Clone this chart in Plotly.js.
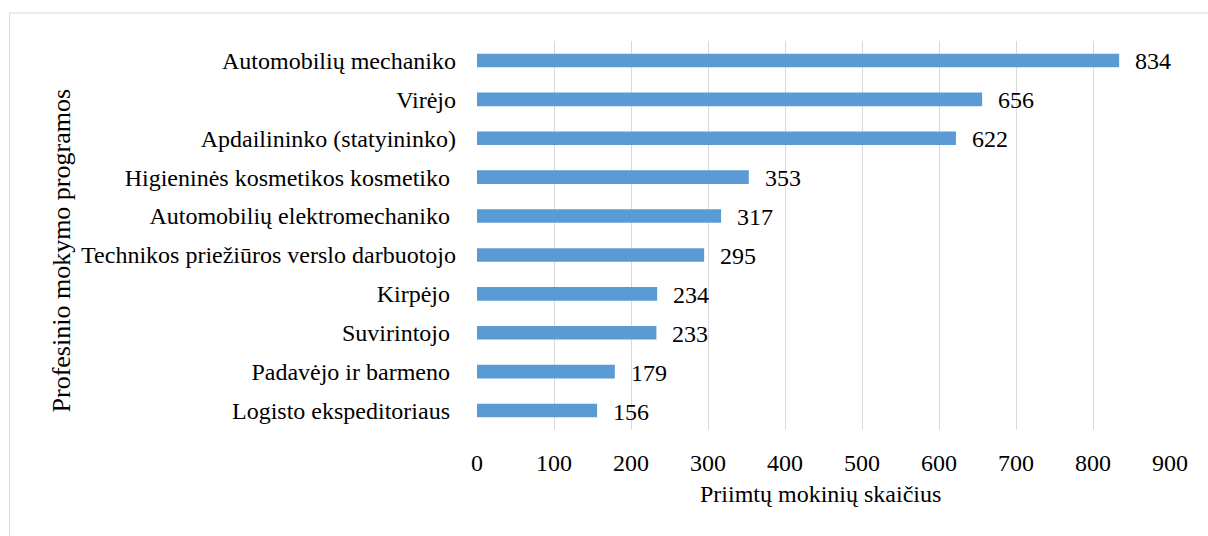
<!DOCTYPE html>
<html><head><meta charset="utf-8">
<script src="https://cdn.plot.ly/plotly-3.0.1.min.js"></script>
<style>body{margin:0;background:#fff}#c{width:1208px;height:536px}</style>
</head><body><div id="c"></div>
<script>
const categories = [
  "Automobilių mechaniko",
  "Virėjo",
  "Apdailininko (statyininko)",
  "Higieninės kosmetikos kosmetiko\u00a0",
  "Automobilių elektromechaniko\u00a0",
  "Technikos priežiūros verslo darbuotojo",
  "Kirpėjo\u00a0",
  "Suvirintojo\u00a0",
  "Padavėjo ir barmeno\u00a0",
  "Logisto ekspeditoriaus\u00a0"
];
const values = [834, 656, 622, 353, 317, 295, 234, 233, 179, 156];
const xTicks = [0, 100, 200, 300, 400, 500, 600, 700, 800, 900];
const xTitle = "Priimtų mokinių skaičius";
const yTitle = "Profesinio mokymo programos";

const FONT = "Liberation Serif";
const FS = 24;

const annotations = values.map((v, i) => ({
  x: v, y: categories[i], xref: 'x', yref: 'y',
  text: String(v), showarrow: false, xanchor: 'left', yanchor: 'middle',
  xshift: 14, yshift: -1, font: {family: FONT, size: FS, color: '#000'}
}));
annotations.push({
  xref: 'paper', yref: 'paper', x: (61 - 477) / 693, y: (430.5 - 250.5) / 390,
  text: yTitle, textangle: -90, showarrow: false, xanchor: 'center', yanchor: 'middle',
  font: {family: FONT, size: 26, color: '#000'}
});
annotations.push({
  xref: 'paper', yref: 'paper', x: (820 - 477) / 693, y: (430.5 - 495) / 390,
  text: xTitle, showarrow: false, xanchor: 'center', yanchor: 'middle',
  font: {family: FONT, size: FS, color: '#000'}
});

const trace = {
  type: 'bar', orientation: 'h',
  x: values, y: categories,
  width: 0.35,
  marker: {color: '#5b9bd5'},
  hoverinfo: 'none'
};

const layout = {
  width: 1208, height: 536,
  margin: {l: 477, r: 38, t: 40.5, b: 105.5},
  paper_bgcolor: '#fff', plot_bgcolor: '#fff',
  showlegend: false,
  font: {family: FONT, size: FS, color: '#000'},
  xaxis: {
    range: [0, 900], tickvals: xTicks, ticktext: xTicks.map(String),
    showgrid: true, gridcolor: '#d9d9d9', gridwidth: 1,
    zeroline: false, showline: false, ticks: '', ticklabelstandoff: 16,
    tickfont: {family: FONT, size: FS, color: '#000'}, fixedrange: true
  },
  yaxis: {
    autorange: 'reversed', type: 'category',
    showgrid: false, zeroline: false, showline: false, ticks: '',
    ticklabelstandoff: 20,
    tickfont: {family: FONT, size: FS, color: '#000'}, fixedrange: true
  },
  annotations: annotations,
  shapes: [{
    type: 'rect', xref: 'paper', yref: 'paper',
    x0: (9.5 - 477) / 693, x1: 1.2,
    y0: -0.5, y1: (430.5 - 12.5) / 390,
    line: {color: '#d9d9d9', width: 1}, fillcolor: 'rgba(0,0,0,0)', layer: 'below'
  }]
};

Plotly.newPlot('c', [trace], layout, {displayModeBar: false, staticPlot: true});
</script></body></html>
